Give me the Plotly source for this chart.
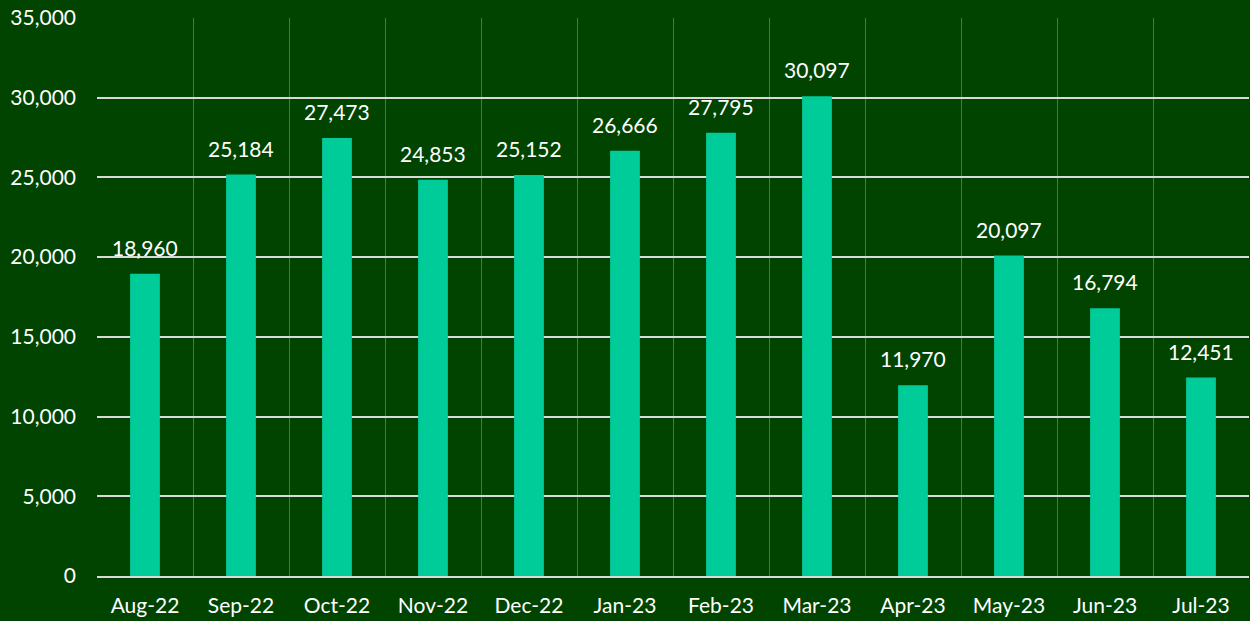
import plotly.graph_objects as go

months = ["Aug-22", "Sep-22", "Oct-22", "Nov-22", "Dec-22", "Jan-23",
          "Feb-23", "Mar-23", "Apr-23", "May-23", "Jun-23", "Jul-23"]
values = [18960, 25184, 27473, 24853, 25152, 26666,
          27795, 30097, 11970, 20097, 16794, 12451]
y_ticks = [0, 5000, 10000, 15000, 20000, 25000, 30000, 35000]

BG = "#004400"
BAR = "#00CC99"
FONT = "Lato, 'Open Sans', sans-serif"

fig = go.Figure(go.Bar(
    x=months, y=values,
    marker=dict(color=BAR, line=dict(width=0)),
    hoverinfo="x+y",
))

for m, v in zip(months, values):
    fig.add_annotation(
        x=m, y=v, text=f"{v:,}", showarrow=False,
        yanchor="bottom", yshift=12,
        font=dict(color="white", size=21, family=FONT),
    )

fig.update_layout(
    width=1250, height=621,
    paper_bgcolor=BG, plot_bgcolor=BG,
    margin=dict(l=97, r=1, t=18, b=45),
    bargap=0.69,
    showlegend=False,
    font=dict(family=FONT, color="white", size=21),
    xaxis=dict(
        type="category",
        tickson="boundaries",
        showgrid=True, gridcolor="rgba(255,255,255,0.28)", gridwidth=1,
        ticks="", ticklabelstandoff=10,
        showline=True, linecolor="#D9D9D9", linewidth=2,
        tickfont=dict(size=21, color="white", family=FONT),
    ),
    yaxis=dict(
        range=[0, 35000],
        tickvals=y_ticks,
        ticktext=[f"{v:,}" for v in y_ticks],
        showgrid=True, gridcolor="#D9D9D9", gridwidth=2,
        zeroline=False,
        ticks="", ticklabelstandoff=20,
        tickfont=dict(size=21, color="white", family=FONT),
    ),
)

fig.write_html(
    "out.html",
    config={"displayModeBar": False},
    post_script="document.body.style.margin='0';document.body.style.padding='0';",
)
